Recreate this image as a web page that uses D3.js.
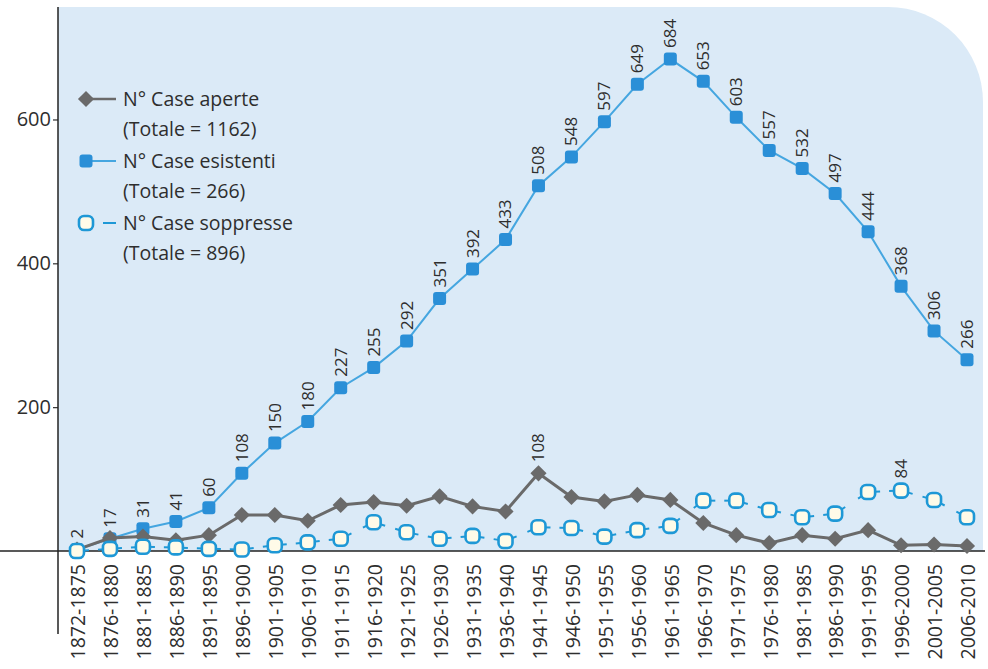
<!DOCTYPE html>
<html><head><meta charset="utf-8">
<script src="https://cdn.jsdelivr.net/npm/d3@7"></script>
<style>
html,body{margin:0;padding:0;background:#fff;}
svg{display:block;font-family:"Open Sans","Noto Sans",sans-serif;}
</style></head>
<body>
<svg id="chart" width="988" height="669"></svg>
<script>
const categories = ["1872-1875","1876-1880","1881-1885","1886-1890","1891-1895","1896-1900","1901-1905","1906-1910","1911-1915","1916-1920","1921-1925","1926-1930","1931-1935","1936-1940","1941-1945","1946-1950","1951-1955","1956-1960","1961-1965","1966-1970","1971-1975","1976-1980","1981-1985","1986-1990","1991-1995","1996-2000","2001-2005","2006-2010"];
const esistenti = [2,17,31,41,60,108,150,180,227,255,292,351,392,433,508,548,597,649,684,653,603,557,532,497,444,368,306,266];
const aperte = [2,18,20,15,22,50,50,42,64,68,63,76,62,55,108,75,69,78,71,39,22,11,22,17,29,8,9,7];
const soppresse = [0,3,6,5,3,2,8,12,17,40,26,17,21,14,33,32,20,29,35,70,70,57,47,52,82,84,71,47];
const yTicks = [200,400,600];
const legendItems = [
  {key:"aperte", l1:"N° Case aperte", l2:"(Totale = 1162)"},
  {key:"esistenti", l1:"N° Case esistenti", l2:"(Totale = 266)"},
  {key:"soppresse", l1:"N° Case soppresse", l2:"(Totale = 896)"}
];
const labelAperte = {"1941-1945":108};
const labelSoppresse = {"1996-2000":84};

const svg = d3.select("#chart");
const grey = "#6a6a6a", blueLine = "#45a6e0", blueMark = "#2a8fd7", openStroke = "#1e98d6", txt = "#2e2e2e";

const x = d3.scalePoint().domain(categories).range([77, 967]);
const y = d3.scaleLinear().domain([0, 755]).range([551, 8]);

// background panel with rounded top-right corner
const L = 58, T = 7, R = 983, B = y(0), rad = 95;
svg.append("path")
  .attr("d", `M${L},${T} H${R-rad} A${rad},${rad} 0 0 1 ${R},${T+rad} V${B} H${L} Z`)
  .attr("fill", "#dbeaf7");

// axes
const yAxis = d3.axisLeft(y).tickValues(yTicks).tickSize(5).tickPadding(2);
const gy = svg.append("g").attr("transform", `translate(${L},0)`).call(yAxis);
gy.select(".domain").remove();
gy.selectAll(".tick line").attr("stroke", txt).attr("stroke-width", 1.2);
gy.selectAll(".tick text").attr("fill", txt).style("font-size", "20px").style("font-family", "'Open Sans',sans-serif");

svg.append("line").attr("x1", L).attr("x2", L).attr("y1", T).attr("y2", 634)
  .attr("stroke", "#222").attr("stroke-width", 1.5);
svg.append("line").attr("x1", 0).attr("x2", 985).attr("y1", y(0)).attr("y2", y(0))
  .attr("stroke", "#222").attr("stroke-width", 1.5);

const xAxis = d3.axisBottom(x).tickSize(0).tickPadding(0);
const gx = svg.append("g").attr("transform", `translate(0,${y(0)})`).call(xAxis);
gx.select(".domain").remove();
gx.selectAll(".tick text")
  .attr("fill", txt).style("font-size", "19.5px").style("font-family", "'Open Sans',sans-serif")
  .attr("text-anchor", "end")
  .attr("transform", "translate(1,13) rotate(-90)")
  .attr("x", 0).attr("y", 0).attr("dy", "0.35em");

const line = d3.line().x(d => x(d.c)).y(d => y(d.v));
const mk = arr => categories.map((c, i) => ({c, v: arr[i]}));
const dE = mk(esistenti), dA = mk(aperte), dS = mk(soppresse);

// blue series
svg.append("path").datum(dE).attr("d", line).attr("fill", "none").attr("stroke", blueLine).attr("stroke-width", 2);
svg.selectAll(".mE").data(dE).join("rect").attr("class", "mE")
  .attr("x", d => x(d.c) - 6.5).attr("y", d => y(d.v) - 6.5).attr("width", 13).attr("height", 13)
  .attr("rx", 3).attr("fill", blueMark);

// grey series
svg.append("path").datum(dA).attr("d", line).attr("fill", "none").attr("stroke", grey).attr("stroke-width", 3);
svg.selectAll(".mA").data(dA).join("path").attr("class", "mA")
  .attr("d", d3.symbol().type(d3.symbolSquare).size(130))
  .attr("transform", d => `translate(${x(d.c)},${y(d.v)}) rotate(45)`)
  .attr("fill", grey);

// open series: short stubs toward neighbours
const stubs = [];
dS.forEach((d, i) => {
  const p = [x(d.c), y(d.v)];
  [i - 1, i + 1].forEach(j => {
    if (j < 0 || j >= dS.length) return;
    const q = [x(dS[j].c), y(dS[j].v)];
    const dx = q[0] - p[0], dy = q[1] - p[1], len = Math.hypot(dx, dy);
    stubs.push({x1: p[0], y1: p[1], x2: p[0] + dx / len * 12, y2: p[1] + dy / len * 12});
  });
});
svg.selectAll(".stub").data(stubs).join("line").attr("class", "stub")
  .attr("x1", d => d.x1).attr("y1", d => d.y1).attr("x2", d => d.x2).attr("y2", d => d.y2)
  .attr("stroke", openStroke).attr("stroke-width", 2);
svg.selectAll(".mS").data(dS).join("rect").attr("class", "mS")
  .attr("x", d => x(d.c) - 7).attr("y", d => y(d.v) - 7).attr("width", 14).attr("height", 14)
  .attr("rx", 5).attr("fill", "#fffbe8").attr("stroke", openStroke).attr("stroke-width", 2.6);

// value labels
function vlabel(cx, cy, t) {
  svg.append("text").attr("transform", `translate(${cx},${cy}) rotate(-90)`)
    .attr("dy", "0.35em").attr("text-anchor", "start")
    .attr("fill", txt).style("font-size", "17px").text(t);
}
dE.forEach(d => vlabel(x(d.c), y(d.v) - 11, d.v));
dA.forEach(d => { if (labelAperte[d.c] !== undefined) vlabel(x(d.c), y(d.v) - 11, labelAperte[d.c]); });
dS.forEach(d => { if (labelSoppresse[d.c] !== undefined) vlabel(x(d.c), y(d.v) - 12, labelSoppresse[d.c]); });

// legend
const lg = svg.append("g");
legendItems.forEach((it, i) => {
  const cy = 99 + i * 62;
  const mx = 86;
  if (it.key === "aperte") {
    lg.append("line").attr("x1", mx).attr("x2", 116).attr("y1", cy).attr("y2", cy).attr("stroke", grey).attr("stroke-width", 2.5);
    lg.append("path").attr("d", d3.symbol().type(d3.symbolSquare).size(130)).attr("transform", `translate(${mx},${cy}) rotate(45)`).attr("fill", grey);
  } else if (it.key === "esistenti") {
    lg.append("line").attr("x1", mx).attr("x2", 116).attr("y1", cy).attr("y2", cy).attr("stroke", blueLine).attr("stroke-width", 2);
    lg.append("rect").attr("x", mx - 6.5).attr("y", cy - 6.5).attr("width", 13).attr("height", 13).attr("rx", 3).attr("fill", blueMark);
  } else {
    lg.append("line").attr("x1", 103).attr("x2", 116).attr("y1", cy).attr("y2", cy).attr("stroke", openStroke).attr("stroke-width", 2);
    lg.append("rect").attr("x", mx - 7).attr("y", cy - 7).attr("width", 14).attr("height", 14).attr("rx", 5).attr("fill", "#fffbe8").attr("stroke", openStroke).attr("stroke-width", 2.6);
  }
  lg.append("text").attr("x", 123).attr("y", cy).attr("dy", "0.35em").attr("fill", txt).style("font-size", "19.5px").text(it.l1);
  lg.append("text").attr("x", 123).attr("y", cy + 30).attr("dy", "0.35em").attr("fill", txt).style("font-size", "19.5px").text(it.l2);
});
</script>
</body></html>
